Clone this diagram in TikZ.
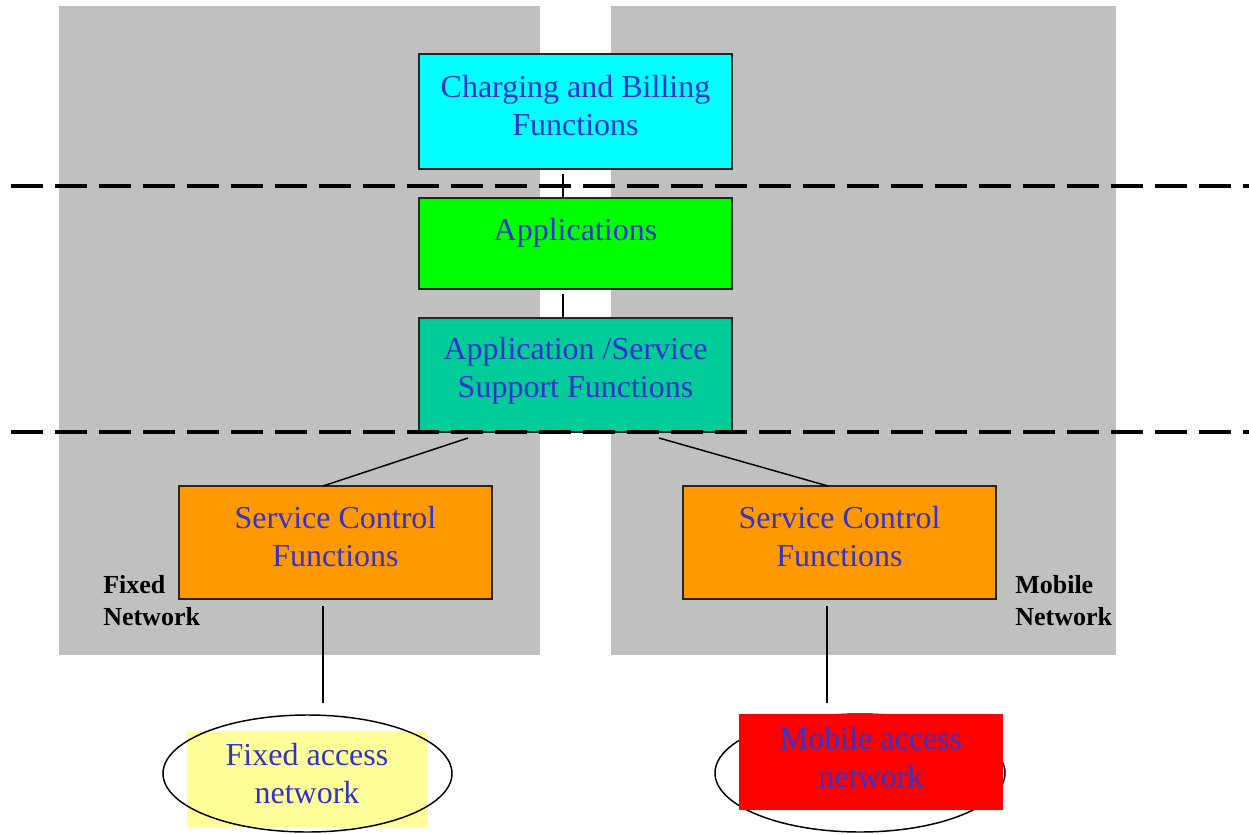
\documentclass[tikz,border=0pt]{standalone}
\usepackage{fontspec}
\setmainfont{Liberation Serif}
\usetikzlibrary{calc,shapes.geometric}
\definecolor{zonegrey}{RGB}{192,192,192}
\definecolor{txtblue}{RGB}{51,51,204}
\definecolor{chargecol}{RGB}{0,255,255}
\definecolor{appcol}{RGB}{0,255,0}
\definecolor{supportcol}{RGB}{0,204,153}
\definecolor{ctrlcol}{RGB}{255,153,0}
\definecolor{fixedcol}{RGB}{255,255,153}
\definecolor{mobilecol}{RGB}{255,0,0}
\begin{document}
\begin{tikzpicture}[x=0.75pt,y=-0.75pt,
  funcbox/.style={draw=black!85,line width=1.5pt,inner sep=0pt,outer sep=0pt},
  functext/.style={text=txtblue,font=\fontsize{24}{28.5}\selectfont,align=center,inner sep=0pt},
  zonetext/.style={font=\fontsize{19.5}{24}\selectfont\bfseries,align=left,inner sep=0pt,anchor=west},
  layerline/.style={line width=3pt,dash pattern=on 24pt off 9pt},
  link/.style={line width=1.1pt},
  accessell/.style={draw=black,line width=1.1pt,ellipse,inner sep=0pt},
  box/.style 2 args={funcbox,fill=#1,minimum width=313*0.75pt,minimum height=#2*0.75pt}
]
\useasboundingbox (0,0) rectangle (1249,834);

% network domains
\fill[zonegrey] (59,6) rectangle (540,655);
\fill[zonegrey] (611,6) rectangle (1116,655);

% functional boxes
\node[box={chargecol}{115}]  (charge)  at (575.5,111.5) {};
\node[box={appcol}{91}]      (apps)    at (575.5,243.5) {};
\node[box={supportcol}{114}] (support) at (575.5,375)   {};
\node[box={ctrlcol}{113}]    (ctrlF)   at (335.5,542.5) {};
\node[box={ctrlcol}{113}]    (ctrlM)   at (839.5,542.5) {};

% layer separators
\draw[layerline] (11,186) -- (1249,186);
\draw[layerline] (11,432) -- (1249,432);

% box labels
\node[functext] (chargeT)  at (575.5,105.5) {Charging and Billing\\Functions};
\node[functext] (appsT)    at (575.5,232.5) {Applications};
\node[functext] (supportT) at (575.5,370.5) {Application /Service\\Support Functions};
\node[functext] (ctrlFT)   at (335.5,537)   {Service Control\\Functions};
\node[functext] (ctrlMT)   at (839.5,537)   {Service Control\\Functions};

% domain labels
\node[zonetext] (fixedlbl)  at (103,601)  {Fixed\\Network};
\node[zonetext] (mobilelbl) at (1015,601) {Mobile\\Network};

% access networks
\fill[fixedcol] (187,731) rectangle (428,827);
\node[accessell,minimum width=289*0.75pt,minimum height=117*0.75pt] (fixedAcc) at (307.5,773.5) {};
\node[accessell,minimum width=290*0.75pt,minimum height=118*0.75pt] (mobileAcc) at (860,773) {};
\fill[mobilecol] (739,714) rectangle (1003,810);
\node[functext] (fixedT)  at (307,774)   {Fixed access\\network};
\node[functext] (mobileT) at (871,757.5) {Mobile access\\network};

% connectors
\coordinate (c1) at (563,174);
\draw[link] (c1) -- (c1 |- apps.north);
\coordinate (c2) at (563,294);
\draw[link] (c2) -- (c2 |- support.north);
\coordinate (s1) at (468,438);
\coordinate (s4) at (323,486);
\draw[link] (s1) -- (s4);
\coordinate (s2) at (659,438);
\coordinate (s3) at (828,486);
\draw[link] (s2) -- (s3);
\coordinate (f1) at (323,606);
\coordinate (f2) at (323,703);
\draw[link] (f1) -- (f2);
\coordinate (m1) at (827,606);
\coordinate (m2) at (827,703);
\draw[link] (m1) -- (m2);
\end{tikzpicture}
\end{document}
